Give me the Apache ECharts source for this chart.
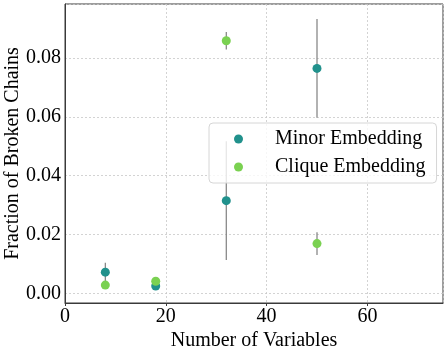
<!DOCTYPE html>
<html>
<head>
<meta charset="utf-8">
<script src="https://cdn.jsdelivr.net/npm/echarts@6/dist/echarts.min.js"></script>
<style>
  html, body { margin: 0; padding: 0; background: #fff; }
  #container { width: 448px; height: 352px; }
</style>
</head>
<body>
<div id="container"></div>
<script>
// data
var variables = [8, 18, 32, 50];
var minorValues = [0.0072, 0.0025, 0.0315, 0.0765];
var minorErrors = [0.0032, 0.0008, 0.0202, 0.0168];
var cliqueValues = [0.0028, 0.0041, 0.0859, 0.0169];
var cliqueErrors = [0.0008, 0.0012, 0.0030, 0.0039];

var FONT = '"Liberation Serif", "DejaVu Serif", serif';

var toPoints = function (xs, ys) {
    var out = [];
    for (var i = 0; i < xs.length; i++) out.push([xs[i], ys[i]]);
    return out;
};
var toBars = function (xs, ys, es) {
    var out = [];
    for (var i = 0; i < xs.length; i++) out.push([xs[i], ys[i] - es[i], ys[i] + es[i]]);
    return out;
};

var renderErrorBar = function (params, api) {
    var lo = api.coord([api.value(0), api.value(1)]);
    var hi = api.coord([api.value(0), api.value(2)]);
    return {
        type: 'line',
        shape: { x1: lo[0], y1: lo[1], x2: hi[0], y2: hi[1] },
        style: { stroke: '#7f7f7f', lineWidth: 1.2 }
    };
};

var option = {
    animation: false,
    backgroundColor: '#fff',
    grid: {
        left: 65, right: 5, top: 4, bottom: 49,
        containLabel: false, outerBoundsMode: 'none',
        show: true, borderColor: '#3a3a3a', borderWidth: 1
    },
    legend: {
        data: ['Minor Embedding', 'Clique Embedding'],
        orient: 'vertical',
        left: 209, top: 123,
        padding: [6, 11, 6, 25],
        itemWidth: 9, itemHeight: 9, itemGap: 8,
        icon: 'circle',
        backgroundColor: 'rgba(255,255,255,0.8)',
        borderColor: '#d6d6d6', borderWidth: 1, borderRadius: 4,
        textStyle: { fontFamily: FONT, fontSize: 20, color: '#000', lineHeight: 20, padding: [0, 0, 0, 27] }
    },
    xAxis: {
        type: 'value', min: 0, max: 75, interval: 20,
        name: 'Number of Variables', nameLocation: 'middle', nameGap: 28,
        nameMoveOverlap: false,
        nameTextStyle: { fontFamily: FONT, fontSize: 20, color: '#000' },
        axisLine: { show: true, onZero: false, lineStyle: { color: '#3a3a3a' } },
        axisTick: { show: true, length: 3, lineStyle: { color: '#3a3a3a' } },
        axisLabel: { fontFamily: FONT, fontSize: 20, color: '#000', margin: 4, showMaxLabel: false },
        splitLine: { show: true, lineStyle: { color: '#c8c8c8', type: [2, 2], width: 0.8 } }
    },
    yAxis: {
        type: 'value', min: -0.0033, max: 0.0984, splitNumber: 5,
        name: 'Fraction of Broken Chains', nameLocation: 'middle', nameGap: 42,
        nameMoveOverlap: false,
        nameTextStyle: { fontFamily: FONT, fontSize: 20, color: '#000' },
        axisLine: { show: true, onZero: false, lineStyle: { color: '#3a3a3a' } },
        axisTick: { show: false },
        axisLabel: {
            fontFamily: FONT, fontSize: 20, color: '#000', margin: 4,
            showMinLabel: false, showMaxLabel: false,
            formatter: function (v) {
                var k = Math.round(v / 0.02);
                if (Math.abs(v - k * 0.02) > 1e-6) return '';
                return (k * 0.02).toFixed(2);
            }
        },
        splitLine: { show: true, lineStyle: { color: '#c8c8c8', type: [2, 2], width: 0.8 } }
    },
    series: [{
        name: 'Minor Embedding bars', type: 'custom', z: 1,
        renderItem: renderErrorBar,
        data: toBars(variables, minorValues, minorErrors)
    }, {
        name: 'Clique Embedding bars', type: 'custom', z: 1,
        renderItem: renderErrorBar,
        data: toBars(variables, cliqueValues, cliqueErrors)
    }, {
        name: 'Minor Embedding', type: 'scatter', z: 3,
        symbolSize: 9,
        itemStyle: { color: '#21918c', opacity: 1 },
        data: toPoints(variables, minorValues)
    }, {
        name: 'Clique Embedding', type: 'scatter', z: 3,
        symbolSize: 9,
        itemStyle: { color: '#7ad151', opacity: 1 },
        data: toPoints(variables, cliqueValues)
    }]
};

var myChart = echarts.init(document.getElementById('container'));
myChart.setOption(option);
</script>
</body>
</html>
